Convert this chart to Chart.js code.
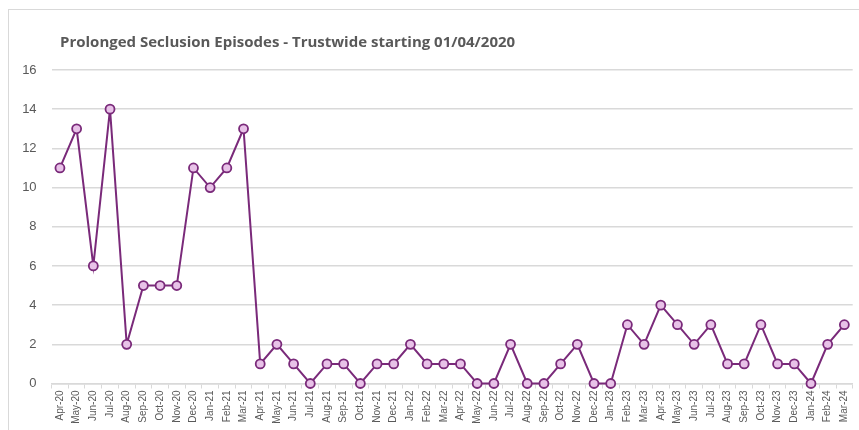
<!DOCTYPE html>
<html>
<head>
<meta charset="utf-8">
<script src="https://cdn.jsdelivr.net/npm/chart.js@4"></script>
<style>
  html, body { margin: 0; padding: 0; background: #fff; }
  #wrap { position: relative; width: 859px; height: 430px; overflow: hidden; }
  #frame { position: absolute; left: 8px; top: 9px; width: 900px; height: 460px; border: 1px solid #d9d9d9; box-sizing: border-box; }
  #title { position: absolute; left: 60px; top: 31px; font-family: "Open Sans", sans-serif; font-weight: 700; font-size: 15px; color: #595959; white-space: nowrap; letter-spacing: 0px; }
  canvas { position: absolute; left: 0; top: 0; }
</style>
</head>
<body>
<div id="wrap">
  <div id="frame"></div>
  <canvas id="c" width="859" height="430"></canvas>
  <div id="title">Prolonged Seclusion Episodes - Trustwide starting 01/04/2020</div>
</div>
<script>
const months = [
  "Apr-20","May-20","Jun-20","Jul-20","Aug-20","Sep-20","Oct-20","Nov-20","Dec-20","Jan-21","Feb-21","Mar-21",
  "Apr-21","May-21","Jun-21","Jul-21","Aug-21","Sep-21","Oct-21","Nov-21","Dec-21","Jan-22","Feb-22","Mar-22",
  "Apr-22","May-22","Jun-22","Jul-22","Aug-22","Sep-22","Oct-22","Nov-22","Dec-22","Jan-23","Feb-23","Mar-23",
  "Apr-23","May-23","Jun-23","Jul-23","Aug-23","Sep-23","Oct-23","Nov-23","Dec-23","Jan-24","Feb-24","Mar-24"
];
const episodes = [
  11,13,6,14,2,5,5,5,11,10,11,13,
  1,2,1,0,1,1,0,1,1,2,1,1,
  1,0,0,2,0,0,1,2,0,0,3,2,
  4,3,2,3,1,1,3,1,1,0,2,3
];
const yTicks = [0,2,4,6,8,10,12,14,16];

new Chart(document.getElementById('c'), {
  type: 'line',
  data: {
    labels: months,
    datasets: [{
      label: 'Prolonged Seclusion Episodes',
      data: episodes,
      borderColor: '#7a2a7a',
      borderWidth: 2,
      backgroundColor: '#e8c2e8',
      pointBackgroundColor: '#e8c2e8',
      pointBorderColor: '#7a2a7a',
      pointBorderWidth: 1.8,
      pointRadius: 4.5,
      tension: 0,
      fill: false,
      clip: false
    }]
  },
  options: {
    responsive: false,
    animation: false,
    devicePixelRatio: 1,
    layout: { padding: { left: 0, right: 5, top: 70, bottom: 0 } },
    plugins: { legend: { display: false }, title: { display: false }, tooltip: { enabled: false } },
    scales: {
      x: {
        offset: true,
        afterFit: (s) => { s.height = 46.5; },
        grid: { offset: true, drawOnChartArea: false, drawTicks: true, tickLength: 5, color: '#d9d9d9', lineWidth: 1 },
        border: { display: true, color: '#d9d9d9', width: 1.5 },
        ticks: {
          autoSkip: false, minRotation: 90, maxRotation: 90, padding: 2,
          color: '#595959', font: { family: 'Liberation Sans', size: 10 }
        }
      },
      y: {
        min: 0, max: 16,
        afterFit: (s) => { s.width = 51.6; },
        afterBuildTicks: (s) => { s.ticks = yTicks.map(v => ({ value: v })); },
        grid: { color: '#d9d9d9', lineWidth: 1.5, drawTicks: false },
        border: { display: false },
        ticks: { padding: 15, color: '#595959', font: { family: 'Liberation Sans', size: 13 } }
      }
    }
  }
});
</script>
</body>
</html>
